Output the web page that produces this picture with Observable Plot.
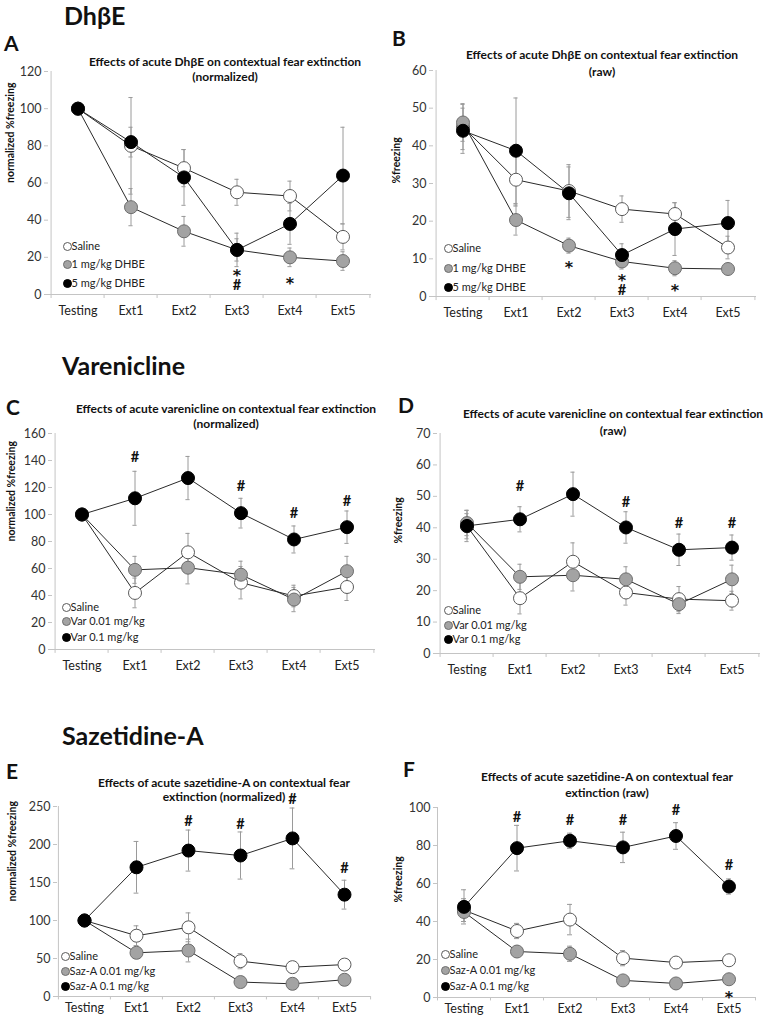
<!DOCTYPE html>
<html><head><meta charset="utf-8">
<script src="https://cdn.jsdelivr.net/npm/d3@7"></script>
<script src="https://cdn.jsdelivr.net/npm/@observablehq/plot@0.6"></script>
<style>
body{margin:0;background:#fff;font-family:Lato,"Open Sans",sans-serif;}
#root{position:relative;width:770px;height:1020px;overflow:hidden;background:#fff;}
.abs{position:absolute;white-space:nowrap;color:#111;line-height:1.15;}
.sec{font-weight:bold;font-size:25px;}
.let{font-weight:bold;font-size:21px;}
.ttl{font-weight:bold;font-size:12px;transform:translate(-50%,-50%);}
.pnl{position:absolute;}
</style></head><body><div id="root"></div>
<script>
const categories = ["Testing", "Ext1", "Ext2", "Ext3", "Ext4", "Ext5"];

// Panel A: DhβE normalized
const A_sal = [100, 80, 68, 55, 53, 31];
const A_salErr = [0, 26, 10, 7, 8, 7];
const A_low = [100, 47, 34, 24, 20, 18];
const A_lowErr = [0, 10, 8, 6, 5, 5];
const A_high = [100, 82, 63, 24, 38, 64];
const A_highErr = [0, 8, 15, 9, 11, 26];
const A_star = [{x: "Ext3", y: 12.5}, {x: "Ext4", y: 8.5}];
const A_hash = [{x: "Ext3", y: 5}];

// Panel B: DhβE raw
const B_sal = [45, 31, 28, 23.2, 21.9, 13];
const B_salErr = [6, 7, 7, 3.5, 3, 3];
const B_low = [46.2, 20.3, 13.5, 9.3, 7.5, 7.3];
const B_lowErr = [5, 4, 2, 2, 2, 1.5];
const B_high = [44, 38.7, 27.4, 11, 17.9, 19.5];
const B_highErr = [6, 14, 7, 3, 7, 6];
const B_star = [{x: "Ext2", y: 9}, {x: "Ext3", y: 5.4}, {x: "Ext4", y: 2.8}];
const B_hash = [{x: "Ext3", y: 1.7}];

// Panel C: varenicline normalized
const C_sal = [100, 41.9, 72, 49.5, 39.6, 46.3];
const C_salErr = [0, 11, 14, 12, 8, 10];
const C_low = [100, 59, 60.6, 55.4, 37, 58];
const C_lowErr = [0, 10, 12, 10, 9, 11];
const C_high = [100, 112, 127, 101, 81.5, 90.6];
const C_highErr = [0, 20, 16, 11, 10, 12];
const C_star = [];
const C_hash = [{x: "Ext1", y: 142}, {x: "Ext3", y: 121}, {x: "Ext4", y: 101}, {x: "Ext5", y: 110}];

// Panel D: varenicline raw
const D_sal = [40.5, 17.6, 29.2, 19.4, 17.3, 16.8];
const D_salErr = [4, 5, 6, 4, 4, 3];
const D_low = [41.5, 24.4, 24.9, 23.6, 15.7, 23.6];
const D_lowErr = [4, 4, 5, 4, 3, 4.5];
const D_high = [40.6, 42.7, 50.7, 40.1, 33, 33.7];
const D_highErr = [5, 4, 7, 5, 5, 4];
const D_star = [];
const D_hash = [{x: "Ext1", y: 53.3}, {x: "Ext3", y: 48.2}, {x: "Ext4", y: 41.5}, {x: "Ext5", y: 41.5}];

// Panel E: sazetidine-A normalized
const E_sal = [100, 80, 91, 46.5, 38.6, 42];
const E_salErr = [0, 13, 19, 10, 5, 5];
const E_low = [100, 57.5, 60.5, 19, 16.7, 22];
const E_lowErr = [0, 5, 15, 4, 4, 4];
const E_high = [100, 170, 192, 185.5, 208, 134];
const E_highErr = [0, 34, 27, 31, 40, 19];
const E_star = [];
const E_hash = [{x: "Ext2", y: 230}, {x: "Ext3", y: 227}, {x: "Ext4", y: 259}, {x: "Ext5", y: 168}];

// Panel F: sazetidine-A raw
const F_sal = [46, 35, 41, 20.7, 18.4, 19.6];
const F_salErr = [6, 4, 8, 4, 3, 2];
const F_low = [45, 24.2, 23, 9, 7.4, 9.6];
const F_lowErr = [5, 3, 4, 2, 2, 2];
const F_high = [47.7, 78.6, 82.5, 79, 85, 58.4];
const F_highErr = [9, 12, 4, 8, 7, 4];
const F_star = [{x: "Ext5", y: 2.5}];
const F_hash = [{x: "Ext1", y: 95}, {x: "Ext2", y: 93}, {x: "Ext3", y: 93}, {x: "Ext4", y: 98.6}, {x: "Ext5", y: 69.3}];

const legDhbe = ["Saline", "1 mg/kg DHBE", "5 mg/kg DHBE"];
const legVar = ["Saline", "Var 0.01 mg/kg", "Var 0.1 mg/kg"];
const legSaz = ["Saline", "Saz-A 0.01 mg/kg", "Saz-A 0.1 mg/kg"];

const fills = ["#ffffff", "#a3a3a3", "#000000"];
const strokes = ["#5a5a5a", "#6e6e6e", "#000000"];

const root = document.getElementById("root");
function addText(cls, text, left, top) {
  const d = document.createElement("div");
  d.className = "abs " + cls;
  d.textContent = text;
  d.style.left = left + "px";
  d.style.top = top + "px";
  root.appendChild(d);
}

function makePanel(p) {
  const bw = (p.width - p.ml - p.mr) / categories.length;
  const yMax = p.yDomain[1];
  const vals = [p.sal, p.low, p.high], errs = [p.salErr, p.lowErr, p.highErr];
  const data = vals.flatMap((v, s) => categories.map((c, i) => ({cat: c, v: v[i], e: errs[s][i], s})));
  const errData = data.filter(d => d.e > 0);
  const marks = [
    Plot.axisY({ticks: p.yTicks, tickSize: 4, tickPadding: 3, stroke: "#c4c4c4", color: "#333", fontSize: 12.5, label: null}),
    Plot.axisX({tickSize: 0, tickPadding: p.xPad, fontSize: 12.5, color: "#222", label: null}),
    Plot.text([p.yLabel], {frameAnchor: "left", rotate: -90, dx: p.yLabDx, fontWeight: "bold", fontSize: 10.5, fill: "#111"}),
    Plot.ruleY([0], {stroke: "#c4c4c4"}),
    Plot.ruleX([categories[0]], {dx: -bw / 2, y1: 0, y2: yMax, stroke: "#c4c4c4"}),
    Plot.ruleX(categories, {x: d => d, dx: -bw / 2, y1: 0, y2: -yMax * 0.018, stroke: "#c4c4c4"}),
    Plot.ruleX([categories[categories.length - 1]], {dx: bw / 2, y1: 0, y2: -yMax * 0.018, stroke: "#c4c4c4"}),
    Plot.ruleX(errData, {x: "cat", y1: d => d.v - d.e, y2: d => d.v + d.e, stroke: "#9a9a9a", strokeWidth: 1}),
    Plot.tickY(errData, {x: "cat", y: d => d.v + d.e, inset: bw / 2 - 2.5, stroke: "#9a9a9a"}),
    Plot.tickY(errData, {x: "cat", y: d => d.v - d.e, inset: bw / 2 - 2.5, stroke: "#9a9a9a"}),
    Plot.line(data, {x: "cat", y: "v", z: "s", stroke: "#2a2a2a", strokeWidth: 1}),
    Plot.dot(data, {x: "cat", y: "v", r: 6.5, fill: d => fills[d.s], stroke: d => strokes[d.s], strokeWidth: 1}),
    Plot.text(p.star, {x: "x", y: "y", text: () => "*", fontSize: 16, fontWeight: "bold", fontFamily: "DejaVu Sans", dy: 5, fill: "#111"}),
    Plot.text(p.hash, {x: "x", y: "y", text: () => "#", fontSize: 14.5, fontWeight: "bold", fill: "#111"})
  ];
  p.legend.forEach((lab, i) => {
    marks.push(Plot.dot([lab], {frameAnchor: "bottom-left", dx: p.legDx, dy: -p.legDy[i], r: 4, fill: fills[i], stroke: strokes[i], strokeWidth: 1}));
    marks.push(Plot.text([lab], {frameAnchor: "bottom-left", lineAnchor: "middle", dx: p.legDx + 4, dy: -p.legDy[i], text: d => d, textAnchor: "start", fontSize: 11, fill: "#222"}));
  });
  const svg = Plot.plot({
    width: p.width, height: p.height,
    marginLeft: p.ml, marginRight: p.mr, marginTop: p.mt, marginBottom: p.mb,
    x: {type: "band", domain: categories, padding: 0},
    y: {domain: p.yDomain},
    color: {type: "identity"},
    style: {background: "transparent", overflow: "visible", fontFamily: "Lato, 'Open Sans', sans-serif"},
    marks
  });
  const wrap = document.createElement("div");
  wrap.className = "pnl";
  wrap.style.left = p.left + "px";
  wrap.style.top = p.top + "px";
  wrap.appendChild(svg);
  root.appendChild(wrap);
  addText("ttl", p.title[0], p.tx, p.ty[0]);
  addText("ttl", p.title[1], p.tx, p.ty[1]);
  addText("let", p.letter, p.lx, p.ly);
}

addText("sec", "DhβE", 64, 1);
addText("sec", "Varenicline", 62, 351);
addText("sec", "Sazetidine-A", 62, 721);

makePanel({letter: "A", lx: 4, ly: 31, left: 0, top: 55, width: 385, height: 275, ml: 48, mr: 14, mt: 16, mb: 36, xPad: 12, yLabDx: -38,
  yDomain: [0, 120], yTicks: d3.range(0, 121, 20), yLabel: "normalized %freezing",
  sal: A_sal, salErr: A_salErr, low: A_low, lowErr: A_lowErr, high: A_high, highErr: A_highErr, star: A_star, hash: A_hash,
  legend: legDhbe, legDx: 19, legDy: [48, 30, 11],
  title: ["Effects of acute DhβE on contextual fear extinction", "(normalized)"], tx: 225, ty: [62, 77]});

makePanel({letter: "B", lx: 392, ly: 26, left: 385, top: 55, width: 385, height: 275, ml: 48, mr: 14, mt: 15, mb: 34, xPad: 12, yLabDx: -37,
  yDomain: [0, 60], yTicks: d3.range(0, 61, 10), yLabel: "%freezing",
  sal: B_sal, salErr: B_salErr, low: B_low, lowErr: B_lowErr, high: B_high, highErr: B_highErr, star: B_star, hash: B_hash,
  legend: legDhbe, legDx: 15, legDy: [48, 28, 9],
  title: ["Effects of acute DhβE on contextual fear extinction", "(raw)"], tx: 602, ty: [55, 72]});

makePanel({letter: "C", lx: 6, ly: 395, left: 0, top: 420, width: 385, height: 265, ml: 52, mr: 10, mt: 13, mb: 36, xPad: 12, yLabDx: -41,
  yDomain: [0, 160], yTicks: d3.range(0, 161, 20), yLabel: "normalized %freezing",
  sal: C_sal, salErr: C_salErr, low: C_low, lowErr: C_lowErr, high: C_high, highErr: C_highErr, star: C_star, hash: C_hash,
  legend: legVar, legDx: 14, legDy: [42, 28, 12],
  title: ["Effects of acute varenicline on contextual fear extinction", "(normalized)"], tx: 226, ty: [409, 424]});

makePanel({letter: "D", lx: 398, ly: 393, left: 385, top: 420, width: 385, height: 265, ml: 52, mr: 10, mt: 13, mb: 32, xPad: 12, yLabDx: -39,
  yDomain: [0, 70], yTicks: d3.range(0, 71, 10), yLabel: "%freezing",
  sal: D_sal, salErr: D_salErr, low: D_low, lowErr: D_lowErr, high: D_high, highErr: D_highErr, star: D_star, hash: D_hash,
  legend: legVar, legDx: 11, legDy: [43, 28, 14],
  title: ["Effects of acute varenicline on contextual fear extinction", "(raw)"], tx: 613, ty: [414, 431]});

makePanel({letter: "E", lx: 6, ly: 759, left: 0, top: 790, width: 385, height: 230, ml: 57, mr: 15, mt: 16, mb: 24, xPad: 7, yLabDx: -45,
  yDomain: [0, 250], yTicks: d3.range(0, 251, 50), yLabel: "normalized %freezing",
  sal: E_sal, salErr: E_salErr, low: E_low, lowErr: E_lowErr, high: E_high, highErr: E_highErr, star: E_star, hash: E_hash,
  legend: legSaz, legDx: 8, legDy: [40, 25, 10],
  title: ["Effects of acute sazetidine-A on contextual fear", "extinction (normalized)"], tx: 224, ty: [783, 797]});

makePanel({letter: "F", lx: 403, ly: 757, left: 385, top: 790, width: 385, height: 230, ml: 52, mr: 15, mt: 17, mb: 23, xPad: 7, yLabDx: -39,
  yDomain: [0, 100], yTicks: d3.range(0, 101, 20), yLabel: "%freezing",
  sal: F_sal, salErr: F_salErr, low: F_low, lowErr: F_lowErr, high: F_high, highErr: F_highErr, star: F_star, hash: F_hash,
  legend: legSaz, legDx: 8, legDy: [43, 27, 11],
  title: ["Effects of acute sazetidine-A on contextual fear", "extinction (raw)"], tx: 607, ty: [777, 793]});
</script></body></html>
